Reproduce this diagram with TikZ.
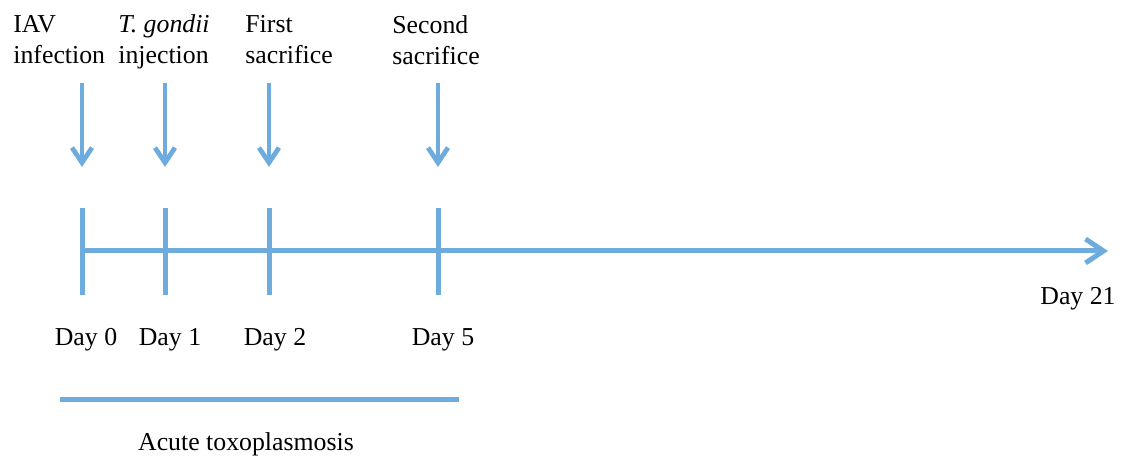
\documentclass[tikz,border=0pt]{standalone}
\usepackage{fontspec}
\setmainfont{Liberation Serif}
\usetikzlibrary{arrows.meta}
\definecolor{tlblue}{RGB}{110,172,221}
\tikzset{
  lbl/.style={font=\fontsize{12.9}{15.5}\selectfont, inner sep=0pt, align=left},
  bar/.style={draw=tlblue, line width=2.5pt},
  evt/.style={draw=tlblue, line width=1.6pt,
              -{Straight Barb[length=7.5pt, width=10pt, line width=2.4pt]}},
  axis/.style={bar, -{Straight Barb[length=9pt, width=12pt, line width=2.5pt]}},
}

\begin{document}
\begin{tikzpicture}[x=0.5pt, y=-0.5pt]
\useasboundingbox (0,0) rectangle (1121,458);

%% event labels on top
\node[lbl, anchor=north west] (iav)  at (13,15)  {IAV\\infection};
\node[lbl, anchor=north west] (tg)   at (118,14) {\textit{T. gondii}\\injection};
\node[lbl, anchor=north west] (sac1) at (245,15) {First\\sacrifice};
\node[lbl, anchor=north west] (sac2) at (392,15) {Second\\sacrifice};

%% timeline
\coordinate (t0) at (82,251);
\coordinate (tend) at (1108,251);
\draw[axis] (t0) -- (tend);

% ticks and event arrows
\foreach \i/\x in {0/82, 1/165, 2/269, 5/438} {
  \coordinate (up\i) at (\x,208);
  \coordinate (dn\i) at (\x,295);
  \draw[bar] (up\i) -- (dn\i);
  \coordinate (a\i) at (\x,83);
  \coordinate (b\i) at (\x,167);
  \draw[evt] (a\i) -- (b\i);
}

%% day labels
\foreach \i/\x in {0/86, 1/170, 2/275, 5/443} {
  \node[lbl] (day\i) at (\x,340) {Day \i};
}
\node[lbl] (day21) at (1078,299) {Day 21};

%% acute phase
\coordinate (ac0) at (60,400);
\coordinate (ac1) at (459,400);
\draw[bar] (ac0) -- (ac1);
\node[lbl] (acute) at (246,444) {Acute toxoplasmosis};

\end{tikzpicture}
\end{document}
